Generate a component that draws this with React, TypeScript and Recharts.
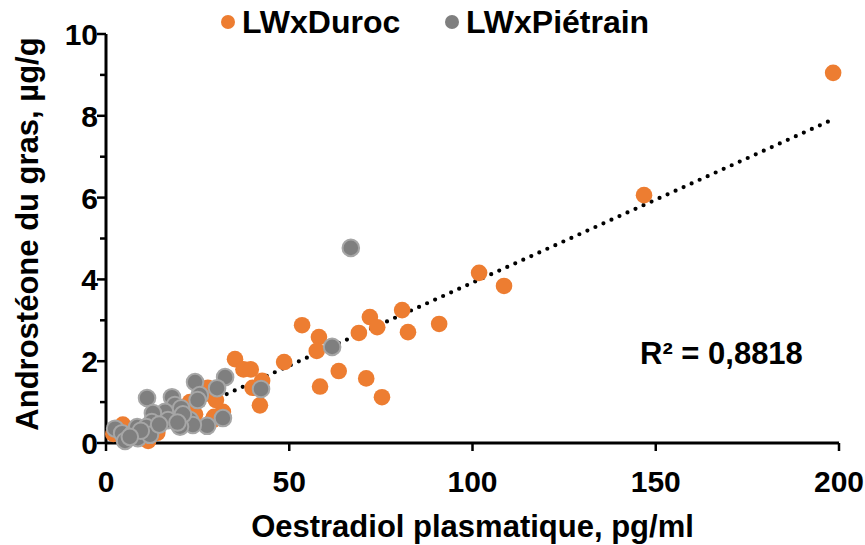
import { ScatterChart, Scatter, XAxis, YAxis, ReferenceLine } from 'recharts';

// LWxDuroc: [oestradiol pg/ml, androstéone µg/g]
const durocX = [198.4, 146.8, 101.8, 108.6, 80.8, 90.9, 82.4, 72.0, 74.0, 69.0, 53.5, 58.1, 57.5, 63.5, 71.0, 58.4, 75.3, 48.6, 35.2, 37.5, 39.5, 42.6, 40.0, 42.0, 27.8, 27.0, 31.9, 29.5, 29.0, 22.9, 24.3, 30.0, 4.6, 11.5, 2.0, 5.0, 9.0, 14.0];
const durocY = [9.05, 6.06, 4.16, 3.84, 3.25, 2.91, 2.71, 3.08, 2.83, 2.69, 2.88, 2.59, 2.25, 1.76, 1.58, 1.38, 1.12, 1.98, 2.05, 1.8, 1.8, 1.52, 1.35, 0.92, 1.35, 1.2, 0.76, 0.64, 0.55, 1.0, 0.7, 1.05, 0.45, 0.05, 0.22, 0.35, 0.15, 0.25];

// LWxPiétrain
const pietrainX = [66.8, 61.7, 32.5, 30.3, 24.3, 25.6, 25.0, 42.3, 31.9, 27.6, 22.9, 11.2, 18.0, 18.8, 16.1, 12.8, 12.5, 16.9, 20.7, 23.7, 20.2, 2.5, 4.4, 5.2, 7.4, 8.5, 8.7, 11.0, 12.0, 14.5, 20.5, 21.0, 19.5, 9.5, 6.5];
const pietrainY = [4.77, 2.35, 1.61, 1.34, 1.49, 1.17, 1.05, 1.32, 0.61, 0.42, 0.56, 1.1, 1.12, 0.93, 0.76, 0.73, 0.51, 0.56, 0.56, 0.44, 0.4, 0.35, 0.24, 0.05, 0.24, 0.39, 0.12, 0.39, 0.2, 0.45, 0.85, 0.7, 0.5, 0.3, 0.15];

const xTicks = [0, 50, 100, 150, 200];
const yTicks = [0, 1, 2, 3, 4, 5, 6, 7, 8, 9, 10];

// linear trend (Excel-style), R² shown on chart
const trendSlope = 0.0406;
const trendIntercept = -0.14;
const trendRange = [4.5, 198.5];
const r2Label = 'R² = 0,8818';

const ORANGE = '#ED7D31';
const GRAY = '#7F7F7F';
const FONT = 'Liberation Sans, Arial, sans-serif';

const duroc = durocX.map((x, i) => ({ x, y: durocY[i] }));
const pietrain = pietrainX.map((x, i) => ({ x, y: pietrainY[i] }));

function XTick(props: any) {
  const { x, y, payload } = props;
  return (
    <g>
      <line x1={x} x2={x} y1={y} y2={y + 8} stroke="#000" strokeWidth={2.5} />
      <text x={x} y={y + 49} textAnchor="middle" fontFamily={FONT} fontWeight="bold" fontSize={30} fill="#000">
        {payload.value}
      </text>
    </g>
  );
}

function YTick(props: any) {
  const { x, y, payload } = props;
  const major = payload.value % 2 === 0;
  return (
    <g>
      <line x1={x - (major ? 9 : 6)} x2={x} y1={y} y2={y} stroke="#000" strokeWidth={2.5} />
      {major && (
        <text x={x - 8} y={y + 11} textAnchor="end" fontFamily={FONT} fontWeight="bold" fontSize={30} fill="#000">
          {payload.value}
        </text>
      )}
    </g>
  );
}

function Dot(color: string, stroke?: string) {
  return (props: any) => (
    <circle cx={props.cx} cy={props.cy} r={8.3} fill={color} stroke={stroke || 'none'} strokeWidth={stroke ? 2 : 0} />
  );
}

const legendItems = [
  { name: 'LWxDuroc', color: ORANGE, left: 221 },
  { name: 'LWxPiétrain', color: GRAY, left: 445 },
];

export default function App() {
  return (
    <div style={{ position: 'absolute', left: 0, top: 0, width: 865, height: 545, background: '#fff' }}>
      <ScatterChart width={865} height={545} margin={{ top: 34, right: 26, bottom: 2, left: 0 }}>
        <XAxis
          type="number"
          dataKey="x"
          domain={[0, 200]}
          ticks={xTicks}
          tick={<XTick />}
          tickLine={false}
          tickSize={0}
          tickMargin={0}
          height={100}
          stroke="#000"
          axisLine={{ stroke: '#000', strokeWidth: 3 }}
          label={{
            content: (p: any) => {
              const vb = p.viewBox;
              return (
                <text x={vb.x + vb.width / 2} y={537} textAnchor="middle" fontFamily={FONT} fontWeight="bold" fontSize={31} fill="#000">
                  Oestradiol plasmatique, pg/ml
                </text>
              );
            },
          }}
        />
        <YAxis
          type="number"
          dataKey="y"
          domain={[0, 10]}
          ticks={yTicks}
          tick={<YTick />}
          tickLine={false}
          tickSize={0}
          tickMargin={0}
          width={106}
          interval={0}
          stroke="#000"
          axisLine={false}
          label={{
            content: () => (
              <text transform="translate(38,234) rotate(-90)" textAnchor="middle" fontFamily={FONT} fontWeight="bold" fontSize={31} fill="#000">
                Androstéone du gras, µg/g
              </text>
            ),
          }}
        />
        <ReferenceLine x={0} stroke="#000" strokeWidth={3} ifOverflow="visible" />
        <Scatter name="LWxDuroc" data={duroc} fill={ORANGE} shape={Dot(ORANGE)} isAnimationActive={false} />
        <Scatter name="LWxPiétrain" data={pietrain} fill={GRAY} shape={Dot(GRAY, '#A6A6A6')} isAnimationActive={false} />
        <ReferenceLine
          segment={[
            { x: trendRange[0], y: trendSlope * trendRange[0] + trendIntercept },
            { x: trendRange[1], y: trendSlope * trendRange[1] + trendIntercept },
          ]}
          stroke="#000"
          strokeWidth={4.2}
          strokeDasharray="0 8.8"
          strokeLinecap="round"
          ifOverflow="visible"
        />
      </ScatterChart>
      {legendItems.map((it) => (
        <div key={it.name} style={{ position: 'absolute', left: it.left, top: 3, display: 'flex', alignItems: 'center' }}>
          <span style={{ width: 14, height: 14, borderRadius: 7, background: it.color, display: 'inline-block', marginRight: 7 }} />
          <span style={{ fontFamily: FONT, fontWeight: 'bold', fontSize: 32, color: '#000', lineHeight: '38px' }}>{it.name}</span>
        </div>
      ))}
      <div
        style={{ position: 'absolute', left: 640, top: 336, fontFamily: FONT, fontWeight: 'bold', fontSize: 31, color: '#000', whiteSpace: 'nowrap' }}
      >
        {r2Label}
      </div>
    </div>
  );
}
